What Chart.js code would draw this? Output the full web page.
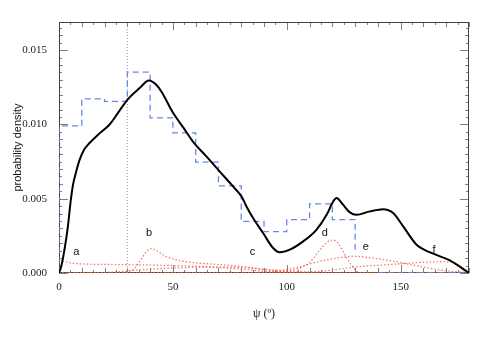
<!DOCTYPE html>
<html>
<head>
<meta charset="utf-8">
<script src="https://cdn.jsdelivr.net/npm/chart.js@4"></script>
<style>
  html, body { margin: 0; padding: 0; background: #fff; }
</style>
</head>
<body>
<canvas id="chart" width="491" height="338"></canvas>
<script>
// histogram of psi, 10 degree bins starting at 0
const binEdges = [0, 10, 20, 30, 40, 50, 60, 70, 80, 90, 100, 110, 120, 130, 140];
const binHeights = [0.0099, 0.01173, 0.01155, 0.01353, 0.01045, 0.00944, 0.00747,
                    0.00587, 0.00347, 0.00278, 0.00359, 0.00466, 0.00359, 0.0015];

// smoothed density (black curve)
const kdeX = [0, 1, 2.4, 3.9, 5.1, 6.1, 7.5, 9, 11, 13.4, 17.8, 22.2, 26, 30, 35.4, 39.5, 42.7,
              45, 50, 55, 58.8, 64.7, 70.5, 76.4, 80.1, 82.3, 85.2, 89.6, 94, 96.9, 101.3,
              107.2, 113, 117.5, 120.4, 121.8, 124.7, 127.7, 130.6, 136.5, 142.3, 146.7, 151.1,
              157, 164.3, 171.6, 180];
const kdeY = [0, 0.00045, 0.00157, 0.00313, 0.0048, 0.0059, 0.0068, 0.0076, 0.0083, 0.00875,
              0.0094, 0.0100, 0.0108, 0.01166, 0.01245, 0.01296, 0.01267, 0.0122, 0.0108,
              0.0097, 0.00885, 0.00785, 0.00684, 0.00583, 0.00516, 0.00448, 0.0037, 0.00269,
              0.00168, 0.00139, 0.00157, 0.00213, 0.00291, 0.00392, 0.00482, 0.00505, 0.0046,
              0.00408, 0.00392, 0.00415, 0.0043, 0.00404, 0.00314, 0.0019, 0.0013, 0.00085, 0];

// mixture components a-f (red dotted), [psi, density]
const compA = [[0, 0.00085], [2, 0.00078], [6, 0.00066], [12, 0.0006], [20, 0.00058], [30, 0.00056],
               [40, 0.00054], [50, 0.0005], [60, 0.00045], [70, 0.00038], [80, 0.00026], [88, 0.00014],
               [95, 0.00006], [105, 0.00001], [120, 0], [180, 0]];
const compB = [[0, 0], [25, 0.00002], [30, 0.0001], [33, 0.0003], [36, 0.0009], [38.5, 0.00145],
               [40.5, 0.00165], [43, 0.0015], [46.5, 0.00115], [50, 0.00095], [54, 0.0008], [62, 0.00066],
               [72, 0.00055], [82, 0.0004], [90, 0.00022], [97, 0.0001], [105, 0.00002], [120, 0], [180, 0]];
const compC = [[0, 0], [15, 0.00001], [25, 0.00008], [35, 0.0002], [45, 0.0003], [55, 0.00036],
               [65, 0.0004], [75, 0.0004], [85, 0.00032], [95, 0.0002], [105, 0.0001], [115, 0.00003],
               [130, 0], [180, 0]];
const compD = [[0, 0], [95, 0.00002], [100, 0.0001], [105, 0.0003], [110, 0.0007], [114, 0.00145],
               [118, 0.0021], [120.5, 0.00222], [123, 0.0019], [126, 0.0011], [128.5, 0.0005],
               [131, 0.0001], [135, 0], [180, 0]];
const compE = [[0, 0], [85, 0.00002], [95, 0.0001], [105, 0.0004], [115, 0.0008], [124, 0.00105],
               [130, 0.00112], [138, 0.001], [150, 0.0007], [160, 0.0004], [170, 0.00015], [180, 0.00002]];
const compF = [[0, 0], [100, 0.00002], [110, 0.00006], [120, 0.0002], [130, 0.0004], [140, 0.00052],
               [150, 0.00062], [160, 0.00072], [167, 0.00076], [173, 0.0007], [177, 0.0004], [180, 0.00005]];

const compNames = ['a', 'b', 'c', 'd', 'e', 'f'];
const compLabelX = [7.6, 39.5, 84.9, 116.7, 134.7, 164.7];
const compLabelY = [0.00141, 0.00269, 0.00141, 0.00269, 0.00177, 0.00157];

const refAngle = 30;
const xTicks = [0, 50, 100, 150];
const yTicks = [0, 0.005, 0.010, 0.015];
const xMax = 180;
const yMax = 0.0169;

const toPts = arr => arr.map(([x, y]) => ({ x, y }));

// stepped outline of the histogram
const histPts = [{ x: binEdges[0], y: 0 }];
binEdges.forEach((e, i) => histPts.push({ x: e, y: binHeights[i] }));
histPts.push({ x: 140, y: 0 }, { x: xMax, y: 0 });

const redLine = (pts) => ({
  data: toPts(pts),
  borderColor: 'rgba(240, 90, 70, 0.85)',
  borderWidth: 1.2,
  borderDash: [1.5, 2],
  pointRadius: 0,
  cubicInterpolationMode: 'monotone',
  fill: false
});

// frame + inward ticks on all four sides
const framePlugin = {
  id: 'frame',
  beforeDatasetsDraw(chart) {
    const { ctx, chartArea: a, scales: { x, y } } = chart;
    ctx.save();
    ctx.strokeStyle = '#808080';
    ctx.lineWidth = 1;
    ctx.beginPath();
    for (let v = 0; v <= xMax; v += 5) {
      const len = v % 50 === 0 ? 8 : (v % 10 === 0 ? 5 : 3);
      const px = Math.round(x.getPixelForValue(v)) + 0.5;
      ctx.moveTo(px, a.bottom); ctx.lineTo(px, a.bottom - len);
      ctx.moveTo(px, a.top); ctx.lineTo(px, a.top + len);
    }
    for (let i = 0; i * 0.0005 <= yMax; i++) {
      const len = i % 10 === 0 ? 9 : (i % 2 === 0 ? 4 : 3);
      const py = Math.round(y.getPixelForValue(i * 0.0005)) + 0.5;
      ctx.moveTo(a.left, py); ctx.lineTo(a.left + len, py);
      ctx.moveTo(a.right, py); ctx.lineTo(a.right - len, py);
    }
    ctx.stroke();
    ctx.strokeStyle = '#444';
    ctx.strokeRect(a.left + 0.5, a.top + 0.5, a.right - a.left - 1, a.bottom - a.top - 1);
    ctx.restore();
  },
  afterDatasetsDraw(chart) {
    const { ctx, scales: { x, y } } = chart;
    ctx.save();
    ctx.font = '11px "Liberation Sans", Arial, sans-serif';
    ctx.fillStyle = '#111';
    ctx.textAlign = 'center';
    ctx.textBaseline = 'middle';
    compNames.forEach((n, i) => {
      ctx.fillText(n, x.getPixelForValue(compLabelX[i]), y.getPixelForValue(compLabelY[i]));
    });
    ctx.restore();
  }
};

new Chart(document.getElementById('chart'), {
  type: 'line',
  data: {
    datasets: [
      {
        data: kdeX.map((x, i) => ({ x, y: kdeY[i] })),
        borderColor: '#000',
        borderWidth: 2,
        pointRadius: 0,
        cubicInterpolationMode: 'monotone',
        fill: false
      },
      {
        data: histPts,
        stepped: 'before',
        borderColor: '#6b86f0',
        borderWidth: 1.3,
        borderDash: [6, 4],
        pointRadius: 0,
        fill: false
      },
      redLine(compA), redLine(compB), redLine(compC),
      redLine(compD), redLine(compE), redLine(compF),
      {
        data: [{ x: refAngle, y: 0 }, { x: refAngle, y: yMax }],
        borderColor: '#999',
        borderWidth: 1,
        borderDash: [1, 2],
        pointRadius: 0,
        fill: false
      }
    ]
  },
  options: {
    responsive: false,
    animation: false,
    devicePixelRatio: 1,
    layout: { padding: { top: 22, right: 22, left: 0, bottom: 0 } },
    plugins: { legend: { display: false }, tooltip: { enabled: false } },
    scales: {
      x: {
        type: 'linear',
        min: 0,
        max: xMax,
        afterFit: s => { s.height = 65; },
        afterBuildTicks: s => { s.ticks = xTicks.map(v => ({ value: v })); },
        grid: { display: false, drawTicks: false },
        border: { display: false },
        ticks: {
          padding: 8,
          maxRotation: 0,
          color: '#222',
          font: { family: '"Liberation Serif", "Times New Roman", serif', size: 11 }
        },
        title: {
          display: true,
          text: 'ψ (º)',
          color: '#222',
          font: { family: '"Liberation Serif", "Times New Roman", serif', size: 12 },
          padding: { top: 0, bottom: 17 }
        }
      },
      y: {
        type: 'linear',
        min: 0,
        max: yMax,
        afterFit: s => { s.width = 59; },
        afterBuildTicks: s => { s.ticks = yTicks.map(v => ({ value: v })); },
        grid: { display: false, drawTicks: false },
        border: { display: false },
        ticks: {
          padding: 12,
          color: '#222',
          font: { family: '"Liberation Serif", "Times New Roman", serif', size: 11 },
          callback: v => v.toFixed(3)
        },
        title: {
          display: true,
          text: 'probability density',
          color: '#111',
          font: { family: '"Liberation Sans", Arial, sans-serif', size: 11 },
          padding: { top: 11, bottom: 0 }
        }
      }
    }
  },
  plugins: [framePlugin]
});
</script>
</body>
</html>
